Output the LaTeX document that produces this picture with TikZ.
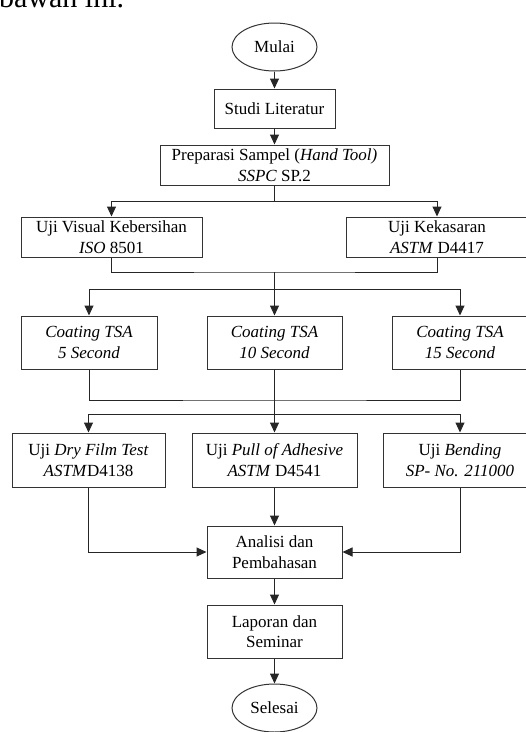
\documentclass[tikz,border=0pt]{standalone}
\usepackage{fontspec}
\setmainfont{Liberation Serif}
\usetikzlibrary{arrows.meta,shapes.geometric}
\tikzset{
  base/.style={draw=black!80, line width=1pt, text=black, align=center, inner sep=0pt,
    font=\fontsize{17}{20.5}\selectfont},
  box/.style={base, rectangle},
  oval/.style={base, ellipse, minimum width=85pt, minimum height=48pt},
  conn/.style={draw=black!85, line width=1pt},
  arr/.style={conn, -{Triangle[length=10pt,width=9pt]}},
}
\begin{document}
\begin{tikzpicture}[x=1pt,y=1pt]
\useasboundingbox (0,0) rectangle (526,-732);
\clip (0,0) rectangle (526,-732);
\node[anchor=base west, inner sep=0pt, font=\fontsize{30}{30}\selectfont] (toptext) at (-1,-7) {bawah ini.};

\node[oval] (mulai) at (274.5,-47) {Mulai};
\node[box, minimum width=121pt, minimum height=39pt] (studi) at (274.5,-108.5) {Studi Literatur};
\node[box, minimum width=229pt, minimum height=40pt] (prep) at (274.5,-165) {Preparasi Sampel (\textit{Hand Tool)}\\\textit{SSPC} SP.2};
\node[box, minimum width=181pt, minimum height=40pt] (visual) at (111.5,-237) {Uji Visual Kebersihan\\\textit{ISO} 8501};
\node[box, minimum width=182pt, minimum height=40pt] (kek) at (437,-237) {Uji Kekasaran\\\textit{ASTM} D4417};
\node[box, minimum width=136pt, minimum height=53pt] (c5) at (89,-342.5) {\textit{Coating TSA}\\\textit{5 Second}};
\node[box, minimum width=135pt, minimum height=53pt] (c10) at (274.5,-342.5) {\textit{Coating TSA}\\\textit{10 Second}};
\node[box, minimum width=136pt, minimum height=53pt] (c15) at (460,-342.5) {\textit{Coating TSA}\\\textit{15 Second}};
\node[box, minimum width=153pt, minimum height=54pt] (dry) at (88.5,-460) {Uji \textit{Dry Film Test}\\\textit{ASTM}D4138};
\node[box, minimum width=165pt, minimum height=54pt] (pull) at (274.5,-460) {Uji \textit{Pull of Adhesive}\\\textit{ASTM} D4541};
\node[box, minimum width=154pt, minimum height=54pt] (bend) at (460,-460) {Uji \textit{Bending}\\\textit{SP- No. 211000}};
\node[box, minimum width=135pt, minimum height=52pt] (anal) at (274.5,-552) {Analisi dan\\Pembahasan};
\node[box, minimum width=135pt, minimum height=53pt] (lap) at (274.5,-631.5) {Laporan dan\\Seminar};
\node[oval] (selesai) at (274.5,-708) {Selesai};

\coordinate (b1) at (274.5,-201);
\coordinate (j1) at (274.5,-272);
\coordinate (b2) at (274.5,-289);
\coordinate (j2) at (274.5,-400);
\coordinate (b3) at (274.5,-414);

\draw[arr] (mulai) -- (studi);
\draw[arr] (studi) -- (prep);
\draw[conn] (prep) -- (b1);
\draw[arr] (b1) -| (visual);
\draw[arr] (b1) -| (kek);
\draw[conn] (visual) |- (j1) -| (kek);
\draw[conn] (j1) -- (b2);
\draw[arr] (b2) -| (c5);
\draw[arr] (b2) -- (c10);
\draw[arr] (b2) -| (c15);
\draw[conn] (c5) |- (j2) -| (c15);
\draw[conn] (c10) -- (b3);
\draw[arr] (b3) -| (dry);
\draw[arr] (b3) -- (pull);
\draw[arr] (b3) -| (bend);
\draw[arr] (pull) -- (anal);
\draw[arr] (dry) |- (anal);
\draw[arr] (bend) |- (anal);
\draw[arr] (anal) -- (lap);
\draw[arr] (lap) -- (selesai);
\end{tikzpicture}
\end{document}
